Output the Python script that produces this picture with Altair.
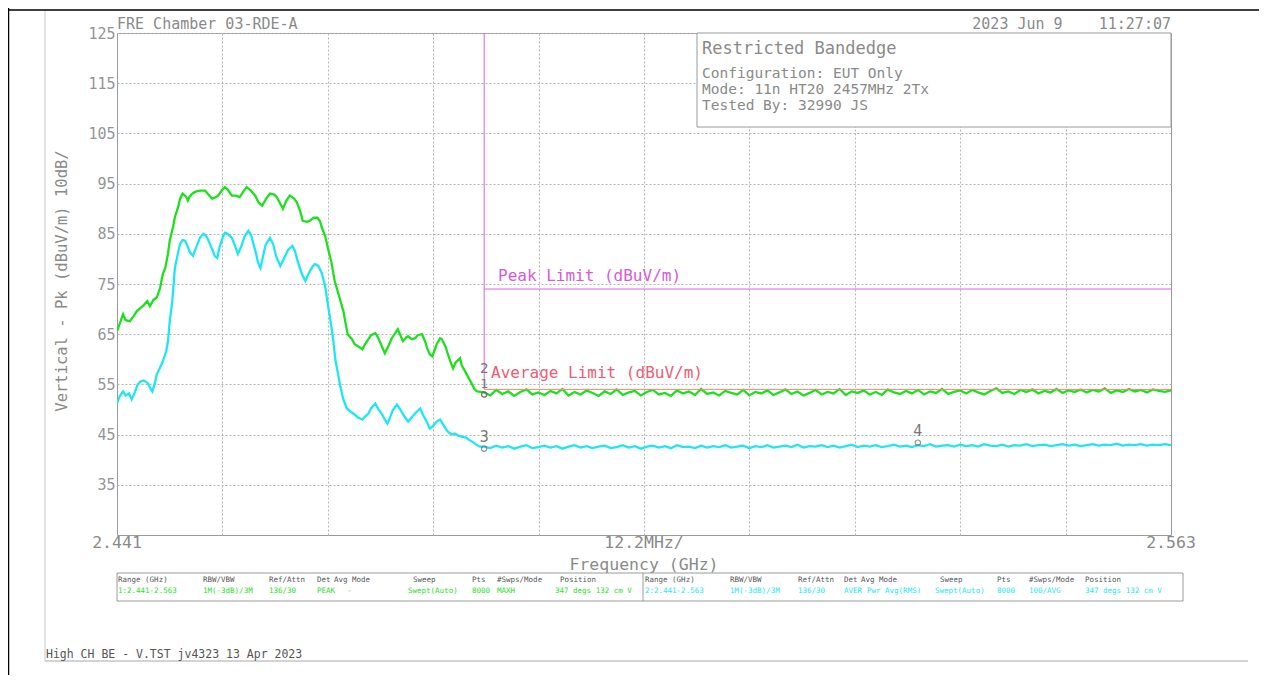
import altair as alt
import pandas as pd

# ---------------- data ----------------
# Peak (green) trace, shaped part: frequency in MHz, level in dBuV/m
green_f = [2441.0, 2441.3, 2441.7, 2442.0, 2442.5, 2443.0, 2443.3, 2443.7, 2444.1, 2444.5,
           2444.8, 2445.2, 2445.6, 2446.0, 2446.3, 2446.6, 2446.9, 2447.1, 2447.5, 2447.7,
           2448.1, 2448.3, 2448.6, 2449.0, 2449.2, 2449.4, 2449.7, 2450.1, 2450.6, 2451.2,
           2451.6, 2452.0, 2452.3, 2452.7, 2453.2, 2453.5, 2453.8, 2454.3, 2454.8, 2455.2,
           2455.7, 2456.0, 2456.5, 2457.0, 2457.4, 2457.8, 2458.2, 2458.7, 2459.2, 2459.5,
           2459.9, 2460.2, 2460.6, 2461.0, 2461.5, 2461.8, 2462.2, 2462.5, 2463.0, 2463.3,
           2463.8, 2464.2, 2464.5, 2464.7, 2465.1, 2465.4, 2465.8, 2466.2, 2466.7, 2467.2,
           2467.5, 2467.7, 2468.2, 2468.5, 2468.9, 2469.4, 2469.7, 2470.1, 2470.4, 2470.9,
           2471.2, 2471.4, 2471.8, 2472.0, 2472.4, 2472.8, 2473.2, 2473.5, 2473.8, 2474.1,
           2474.5, 2474.7, 2475.1, 2475.5, 2475.8, 2476.3, 2476.7, 2476.9, 2477.2, 2477.5,
           2477.8, 2478.0, 2478.4, 2478.6, 2479.0, 2479.2, 2479.5, 2479.9, 2480.2, 2480.7,
           2480.9, 2481.3, 2481.6, 2482.1, 2482.4, 2482.7]
green_db = [65.6, 67.0, 69.0, 67.8, 67.6, 68.8, 69.6, 70.2, 70.8, 71.6,
            70.6, 71.8, 72.3, 74.3, 77.0, 78.3, 81.0, 83.6, 86.5, 88.3,
            90.5, 92.0, 93.0, 92.4, 91.6, 92.4, 93.0, 93.4, 93.6, 93.6,
            92.8, 92.0, 92.2, 92.6, 93.8, 94.3, 93.8, 92.6, 92.6, 92.3,
            93.6, 94.3, 93.6, 92.6, 91.2, 90.6, 91.8, 93.0, 92.8, 92.3,
            91.0, 90.0, 91.6, 92.6, 92.0, 91.3, 89.5, 87.6, 87.4, 87.6,
            88.2, 88.2, 87.5, 86.3, 84.5, 82.2, 79.5, 75.6, 72.6, 69.6,
            66.8, 65.0, 64.0, 63.0, 62.6, 62.0, 63.0, 64.0, 64.8, 65.2,
            64.4, 63.6, 62.0, 61.2, 62.6, 64.2, 65.2, 66.0, 64.8, 63.6,
            64.4, 64.6, 64.0, 64.2, 64.8, 65.0, 63.4, 62.2, 61.0, 60.6,
            62.0, 63.0, 64.2, 64.0, 62.6, 61.6, 60.0, 58.2, 59.4, 60.2,
            58.8, 57.6, 56.6, 55.0, 54.0, 53.6]

# Average (cyan) trace, shaped part
cyan_f = [2441.0, 2441.3, 2441.7, 2442.0, 2442.4, 2442.7, 2443.1, 2443.4, 2443.7, 2444.1,
          2444.6, 2444.8, 2445.1, 2445.4, 2445.6, 2446.0, 2446.3, 2446.7, 2446.9, 2447.1,
          2447.4, 2447.6, 2447.7, 2448.1, 2448.3, 2448.6, 2448.9, 2449.2, 2449.4, 2449.8,
          2450.1, 2450.6, 2451.0, 2451.3, 2451.5, 2452.0, 2452.3, 2452.6, 2452.9, 2453.3,
          2453.5, 2453.8, 2454.3, 2454.7, 2455.0, 2455.4, 2455.8, 2456.2, 2456.5, 2456.7,
          2457.1, 2457.3, 2457.6, 2457.9, 2458.2, 2458.7, 2459.1, 2459.4, 2459.9, 2460.3,
          2460.8, 2461.3, 2461.6, 2461.9, 2462.4, 2462.8, 2463.1, 2463.6, 2463.9, 2464.3,
          2464.7, 2465.1, 2465.4, 2465.7, 2466.0, 2466.3, 2466.6, 2466.8, 2467.2, 2467.6,
          2468.1, 2468.5, 2468.9, 2469.4, 2469.7, 2470.1, 2470.4, 2470.9, 2471.2, 2471.7,
          2472.0, 2472.3, 2472.6, 2472.9, 2473.4, 2473.8, 2474.2, 2474.7, 2475.1, 2475.6,
          2476.1, 2476.4, 2476.9, 2477.2, 2477.6, 2478.0, 2478.4, 2478.7, 2479.1, 2479.4,
          2479.8, 2480.1, 2480.5, 2480.9, 2481.4, 2481.7, 2482.1, 2482.6, 2483.0]
cyan_db = [51.2, 52.6, 53.6, 52.8, 53.2, 52.0, 53.6, 55.0, 55.6, 55.8,
           55.2, 54.4, 53.6, 55.4, 57.0, 58.4, 59.6, 61.6, 63.6, 67.5,
           71.6, 76.0, 78.2, 81.5, 83.0, 83.8, 83.6, 82.4, 81.4, 80.6,
           82.0, 84.2, 85.0, 84.6, 84.0, 82.0, 80.6, 80.2, 82.5, 84.6,
           85.2, 85.0, 84.2, 82.4, 81.0, 82.6, 84.6, 85.6, 84.8, 83.6,
           81.0, 79.4, 78.2, 80.5, 82.8, 84.2, 82.8, 80.6, 78.6, 80.0,
           81.8, 82.6, 81.6, 79.6, 77.0, 75.6, 76.8, 78.4, 79.0, 78.6,
           77.2, 74.5, 71.0, 67.8, 64.2, 59.6, 57.0, 55.0, 52.0, 50.2,
           49.5, 49.0, 48.4, 48.0, 48.6, 49.2, 50.2, 51.2, 50.2, 49.0,
           48.0, 47.2, 48.4, 49.8, 51.0, 50.0, 48.8, 47.6, 48.4, 49.4,
           50.2, 49.0, 47.4, 46.2, 46.8, 47.6, 48.0, 47.2, 46.0, 45.4,
           45.0, 45.2, 44.8, 44.6, 44.4, 44.0, 43.6, 43.0, 42.6]

# Flat (noise floor) part of both traces: evenly swept from flat_start to flat_stop
flat_start = 2483.5
flat_stop = 2563.0
green_flat = [53.4, 52.8, 53.9, 53.1, 53.6, 52.7, 53.5, 54.0, 53.0, 53.4,
              52.9, 53.7, 53.2, 54.1, 52.8, 53.5, 53.0, 53.8, 53.3, 52.7,
              53.6, 53.1, 54.0, 52.9, 53.4, 53.7, 52.8, 53.5, 53.9, 53.0,
              53.3, 52.7, 53.8, 53.2, 53.6, 52.9, 54.1, 53.1, 53.4, 52.8,
              53.7, 53.3, 53.0, 53.9, 52.8, 53.5, 53.2, 53.8, 52.9, 53.4,
              54.0, 53.1, 53.6, 52.8, 53.3, 53.9, 53.0, 53.5, 53.2, 54.1,
              52.9, 53.6, 53.3, 53.8, 53.0, 53.5, 52.9, 54.0, 53.4, 53.1,
              53.7, 53.2, 53.9, 53.0, 53.6, 53.3, 54.1, 53.1, 53.5, 53.8,
              53.2, 53.9, 53.4, 53.0, 53.7, 54.2, 53.3, 53.6, 53.1, 53.9,
              53.5, 54.0, 53.2, 53.7, 53.4, 54.1, 53.3, 53.8, 53.5, 54.0,
              53.4, 53.9, 53.6, 54.2, 53.3, 53.8, 53.5, 54.1, 53.6, 53.9,
              53.4, 54.0, 53.7, 53.5, 53.8]
cyan_flat = [42.6, 42.3, 42.8, 42.4, 42.7, 42.2, 42.6, 42.9, 42.3, 42.5,
             42.8, 42.4, 42.7, 42.2, 42.6, 42.9, 42.4, 42.7, 42.3, 42.6,
             42.8, 42.3, 42.5, 42.9, 42.4, 42.7, 42.2, 42.6, 42.8, 42.4,
             42.7, 42.3, 42.9, 42.5, 42.6, 42.3, 42.8, 42.4, 42.7, 42.5,
             42.9, 42.4, 42.6, 42.8, 42.3, 42.7, 42.5, 42.9, 42.4, 42.6,
             42.8, 42.5, 43.0, 42.4, 42.7, 42.6, 42.9, 42.5, 42.8, 42.4,
             42.7, 43.0, 42.5, 42.8, 42.6, 42.9, 42.5, 42.7, 43.0, 42.6,
             42.8, 42.5, 42.9, 42.7, 43.1, 42.6, 42.8, 42.9, 42.6, 43.0,
             42.7, 42.9, 42.6, 43.1, 42.8, 42.7, 43.0, 42.6, 42.9, 42.8,
             43.1, 42.7, 42.9, 43.0, 42.7, 42.9, 43.1, 42.8, 43.0, 42.7,
             42.9, 43.1, 42.8, 43.0, 42.9, 43.2, 42.8, 43.0, 42.9, 43.1,
             42.8, 43.0, 42.9, 43.1, 42.9]

# Limits
band_edge = 2483.5
peak_limit = 74.0
avg_limit = 54.0

# Markers
marker_ids = ["1", "2", "3", "4"]
marker_f = [2483.5, 2483.5, 2483.5, 2533.7]
marker_db = [53.0, 53.0, 42.2, 43.4]

# Axes
x_min, x_max = 2441.0, 2563.0
y_min, y_max = 25, 125
y_ticks = [35, 45, 55, 65, 75, 85, 95, 105, 115, 125]
x_grid = [2453.2, 2465.4, 2477.6, 2489.8, 2502.0, 2514.2, 2526.4, 2538.6, 2550.8]

# Texts
NB = "\u00a0"
title_left = "FRE Chamber 03-RDE-A"
title_right = "2023" + NB + "Jun" + NB + "9" + NB * 4 + "11:27:07"
info_title = "Restricted Bandedge"
info_lines = ["Configuration: EUT Only", "Mode: 11n HT20 2457MHz 2Tx", "Tested By: 32990 JS"]
y_title = "Vertical - Pk (dBuV/m) 10dB/"
x_left_lbl, x_mid_lbl, x_right_lbl = "2.441", "12.2MHz/", "2.563"
x_title = "Frequency (GHz)"
peak_lbl = "Peak Limit (dBuV/m)"
avg_lbl = "Average Limit (dBuV/m)"
footer = "High CH BE - V.TST jv4323 13 Apr 2023"
tbl_headers = ["Range (GHz)", "RBW/VBW", "Ref/Attn", "Det", "Avg Mode", "Sweep", "Pts", "#Swps/Mode", "Position"]
tbl_peak = ["1:2.441-2.563", "1M(-3dB)/3M", "136/30", "PEAK", "-", "Swept(Auto)", "8000", "MAXH", "347 degs 132 cm V"]
tbl_avg = ["2:2.441-2.563", "1M(-3dB)/3M", "136/30", "AVER", "Pwr Avg(RMS)", "Swept(Auto)", "8000", "100/AVG", "347 degs 132 cm V"]

# ---------------- build ----------------
MONO = "DejaVu Sans Mono"
GREEN = "#1fe01f"
CYAN = "#1ee6f2"
GRAY = "#8a8a8a"
MAGENTA = "#e060e0"

W, H = 1054, 502

n = len(green_flat)
step = (flat_stop - flat_start) / (n - 1)
flat_f = [flat_start + i * step for i in range(n)]

rows = []
for f, v in zip(green_f + flat_f, green_db + green_flat):
    rows.append({"f": f, "db": v, "s": "Peak"})
for f, v in zip(cyan_f + flat_f, cyan_db + cyan_flat):
    rows.append({"f": f, "db": v, "s": "Average"})
traces_df = pd.DataFrame(rows)

xs = alt.Scale(domain=[x_min, x_max], nice=False, zero=False)
ys = alt.Scale(domain=[y_min, y_max], nice=False, zero=False)

traces = alt.Chart(traces_df).mark_line(strokeWidth=2.3, clip=True).encode(
    x=alt.X("f:Q", scale=xs, title=None,
            axis=alt.Axis(values=x_grid, labels=False, ticks=False, domain=False, title=None,
                          grid=True, gridDash=[2, 2], gridColor="#b4b4b4", gridWidth=1)),
    y=alt.Y("db:Q", scale=ys, title=None,
            axis=alt.Axis(values=y_ticks, ticks=False, domain=False, title=None,
                          grid=True, gridDash=[2, 2], gridColor="#b4b4b4", gridWidth=1,
                          labelFont=MONO, labelFontSize=15, labelColor="#959595", labelPadding=2)),
    color=alt.Color("s:N", scale=alt.Scale(domain=["Peak", "Average"], range=[GREEN, CYAN]), legend=None),
    detail="s:N",
    order="f:Q",
)

ONE = alt.Data(values=[{}])


def txt(s, x, y, size, color=GRAY, align="left", angle=None, font=MONO, baseline="middle"):
    kw = dict(align=align, baseline=baseline, font=font, fontSize=size, color=color, clip=False)
    if angle is not None:
        kw["angle"] = angle
    return alt.Chart(ONE).mark_text(**kw).encode(x=alt.value(x), y=alt.value(y), text=alt.value(s))


def hrule(x1, x2, y, color, width=1):
    return alt.Chart(ONE).mark_rule(color=color, strokeWidth=width, clip=False).encode(
        x=alt.value(x1), x2=alt.value(x2), y=alt.value(y))


def vrule(x, y1, y2, color, width=1):
    return alt.Chart(ONE).mark_rule(color=color, strokeWidth=width, clip=False).encode(
        x=alt.value(x), y=alt.value(y1), y2=alt.value(y2))


def box(x1, x2, y1, y2, stroke="#9a9a9a"):
    return alt.Chart(ONE).mark_rect(fill="white", stroke=stroke, strokeWidth=1, clip=False).encode(
        x=alt.value(x1), x2=alt.value(x2), y=alt.value(y1), y2=alt.value(y2))


# limit lines (data coordinates)
lim_df = pd.DataFrame({"f": [band_edge], "f2": [x_max], "pk": [peak_limit], "av": [avg_limit], "top": [y_max]})
peak_line = alt.Chart(lim_df).mark_rule(color=MAGENTA, strokeWidth=1).encode(
    x=alt.X("f:Q", scale=xs, title=None), x2="f2:Q", y=alt.Y("pk:Q", scale=ys, title=None))
avg_line = alt.Chart(lim_df).mark_rule(color="#f28a6a", strokeWidth=1).encode(
    x=alt.X("f:Q", scale=xs, title=None), x2="f2:Q", y=alt.Y("av:Q", scale=ys, title=None))
edge_line = alt.Chart(lim_df).mark_rule(color=MAGENTA, strokeWidth=1).encode(
    x=alt.X("f:Q", scale=xs, title=None), y=alt.Y("top:Q", scale=ys, title=None), y2="av:Q")

mk_df = pd.DataFrame({"id": marker_ids, "f": marker_f, "db": marker_db})
mk_points = alt.Chart(mk_df).mark_point(shape="circle", size=28, filled=False, color="#666666",
                                         strokeWidth=1.2).encode(
    x=alt.X("f:Q", scale=xs, title=None), y=alt.Y("db:Q", scale=ys, title=None))
mk_offsets = {"1": -10, "2": -25, "3": -12, "4": -12}
mk_sizes = {"1": 13, "2": 14, "3": 15, "4": 15}
mk_texts = []
for mid in marker_ids:
    mk_texts.append(
        alt.Chart(mk_df).transform_filter(alt.datum.id == mid).mark_text(
            font=MONO, fontSize=mk_sizes[mid], color="#777777", dy=mk_offsets[mid],
            baseline="middle", align="center"
        ).encode(x=alt.X("f:Q", scale=xs, title=None), y=alt.Y("db:Q", scale=ys, title=None), text="id:N")
    )

layers = [traces, peak_line, avg_line, edge_line, mk_points] + mk_texts

# info box
layers.append(box(580, W, 0, 94))
layers.append(txt(info_title, 585, 16, 17))
for i, line in enumerate(info_lines):
    layers.append(txt(line, 585, 41 + i * 16, 14.5))

# limit labels
layers.append(txt(peak_lbl, 381, 243, 16, color="#d55ad5"))
layers.append(txt(avg_lbl, 374, 340, 16, color="#ee5c72"))

# titles
layers.append(txt(title_left, 0, -9, 15))
layers.append(txt(title_right, W, -9, 15, align="right"))

# y title
layers.append(txt(y_title, -55, 248, 15.5, angle=270, align="center"))

# x labels
layers.append(txt(x_left_lbl, 0, 510, 16.5, align="center"))
layers.append(txt(x_mid_lbl, W / 2, 510, 16.5, align="center"))
layers.append(txt(x_right_lbl, W, 510, 16.5, align="center"))
layers.append(txt(x_title, W / 2, 532, 16.5, align="center"))

# settings table
layers.append(box(0, 1066, 540, 568))
layers.append(vrule(526, 540, 568, "#9a9a9a"))
left_cols = [1, 86, 152, 200, 217, 296, 355, 380, 443]
left_vals = [1, 86, 152, 200, 230, 291, 355, 380, 438]
right_cols = [528, 613, 681, 727, 744, 823, 880, 912, 968]
right_vals = [528, 613, 681, 727, 750, 818, 880, 912, 968]
for h, x in zip(tbl_headers, left_cols):
    layers.append(txt(h, x, 547, 7.5, color="#555555"))
for h, x in zip(tbl_headers, right_cols):
    layers.append(txt(h, x, 547, 7.5, color="#555555"))
for v, x in zip(tbl_peak, left_vals):
    layers.append(txt(v, x, 558, 7.5, color=GREEN))
for v, x in zip(tbl_avg, right_vals):
    layers.append(txt(v, x, 558, 7.5, color=CYAN))

# page frame
layers.append(vrule(-72, -23, 628, "#c8c8c8"))
layers.append(hrule(-72, 1131, 628, "#a8a8a8"))
layers.append(txt(footer, -71, 622, 11.5, color="#555555"))
layers.append(vrule(-108.5, -25, 660, "#000000", 1.5))
layers.append(hrule(-109, 1148, -23, "#000000", 1.5))

chart = alt.layer(*layers).properties(
    width=W, height=H,
    autosize=alt.AutoSizeParams(type="none"),
    padding={"left": 109, "top": 25, "right": 88, "bottom": 140},
    background="white",
).configure_view(stroke="#9a9a9a", strokeWidth=1)

chart.save("out.html", embed_options={"renderer": "svg", "actions": False})
